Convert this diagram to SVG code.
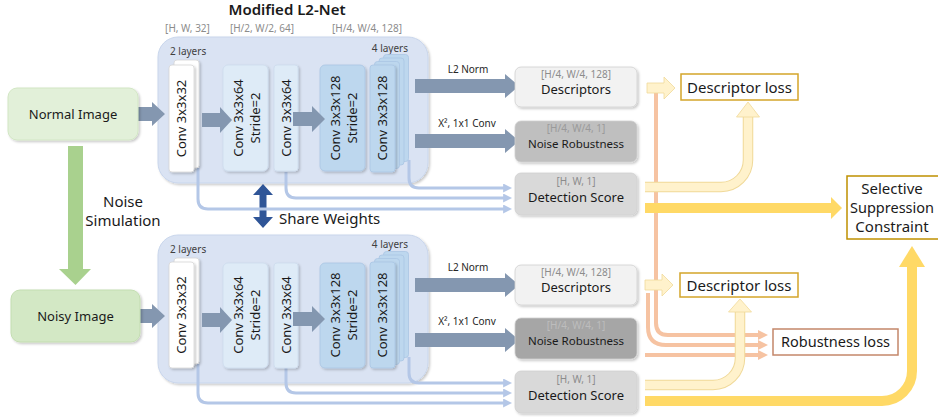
<svg xmlns="http://www.w3.org/2000/svg" width="938" height="417" viewBox="0 0 938 417">
<defs>
<style>
text{font-family:"Noto Sans","Open Sans","Liberation Sans",sans-serif;fill:#1a1a1a}
.dim{font-size:10px;fill:#8c8c8c;text-anchor:middle}
.lay{font-size:10px;fill:#404040}
.cv{font-size:13px;text-anchor:middle}
.lbl{font-size:10px;text-anchor:middle;fill:#262626}
.big{font-size:15px}
.mid{text-anchor:middle}
.cont{fill:#dae3f3;stroke:#c9d6ec;stroke-width:1}
.b1{fill:#ffffff;stroke:#d6d6d6;stroke-width:0.8}
.b2{fill:#deebf7;stroke:#cddcee;stroke-width:0.8}
.b4{fill:#bdd7ee;stroke:#a9c5e3;stroke-width:0.8}
.garr{fill:#8497b0}
.blue{fill:none;stroke:#b4c7e7;stroke-width:3}
.org{fill:none;stroke:#f6c3a2;stroke-width:4}
.ly-edge{fill:none;stroke:#f0d999;stroke-width:10.5}
.ly{fill:none;stroke:#fff2cc;stroke-width:8.5}
.gold{fill:none;stroke:#ffd966;stroke-width:10}
.out{stroke:#d0d0d0;stroke-width:0.8}
.loss{fill:#ffffff;stroke-width:1.5}
</style>
<filter id="sh" x="-20%" y="-20%" width="150%" height="150%">
<feDropShadow dx="1.5" dy="1.5" stdDeviation="1.2" flood-color="#000" flood-opacity="0.22"/>
</filter>
<marker id="ab" viewBox="0 0 10 10" refX="1" refY="5" markerWidth="9" markerHeight="9" markerUnits="userSpaceOnUse" orient="auto">
<path d="M0,0 L10,5 L0,10 z" fill="#b4c7e7"/>
</marker>
<marker id="ao" viewBox="0 0 10 10" refX="1" refY="5" markerWidth="10" markerHeight="11" markerUnits="userSpaceOnUse" orient="auto">
<path d="M0,0 L10,5 L0,10 z" fill="#f6c3a2"/>
</marker>
</defs>

<rect width="938" height="417" fill="#ffffff"/>

<text x="287" y="15" class="mid" style="font-size:15px;font-weight:600">Modified L2-Net</text>
<text x="187.5" y="32" class="dim">[H, W, 32]</text>
<text x="262" y="32" class="dim">[H/2, W/2, 64]</text>
<text x="367" y="32" class="dim">[H/4, W/4, 128]</text>

<!-- containers -->
<g id="net-top">
<rect x="158" y="37" width="270" height="146" rx="20" class="cont" filter="url(#sh)"/>
<text x="170" y="55" class="lay">2 layers</text>
<text x="408" y="52" class="lay" text-anchor="end">4 layers</text>
</g>
<g id="net-bottom">
<rect x="158" y="235" width="270" height="148" rx="20" class="cont" filter="url(#sh)"/>
<text x="170" y="253" class="lay">2 layers</text>
<text x="408" y="248" class="lay" text-anchor="end">4 layers</text>
</g>

<!-- connectors -->
<g id="connectors">
<polygon points="68,146 83,146 83,269 91,269 75.5,285 59,269 68,269" fill="#a9d18e"/>
<polygon points="263,184 273,195 266.5,195 266.5,217 273,217 263,228 253,217 259.5,217 259.5,195 253,195" fill="#2f5597"/>
<polygon points="135,107 152,107 152,102 165,114 152,126 152,121 135,121" class="garr"/>
<polygon points="135,309 152,309 152,304 165,316 152,328 152,323 135,323" class="garr"/>
<path d="M409 160 V178 Q409 188 419 188 H504" class="blue" marker-end="url(#ab)"/>
<path d="M286 172 V188 Q286 198 296 198 H504" class="blue" marker-end="url(#ab)"/>
<path d="M198 168 V199 Q198 209 208 209 H504" class="blue" marker-end="url(#ab)"/>
<path d="M409 357 V373 Q409 383 419 383 H504" class="blue" marker-end="url(#ab)"/>
<path d="M286 368 V383 Q286 393 296 393 H504" class="blue" marker-end="url(#ab)"/>
<path d="M198 364 V393 Q198 403 208 403 H504" class="blue" marker-end="url(#ab)"/>
<polygon points="415,79 505,79 505,74 519,86 505,98 505,93 415,93" class="garr"/>
<polygon points="415,134 505,134 505,129 519,141 505,153 505,148 415,148" class="garr"/>
<text x="468" y="73" class="lbl">L2 Norm</text>
<text x="467" y="127" class="lbl">X², 1x1 Conv</text>
<polygon points="415,278 505,278 505,273 519,285 505,297 505,292 415,292" class="garr"/>
<polygon points="415,333 505,333 505,328 519,340 505,352 505,347 415,347" class="garr"/>
<text x="468" y="271" class="lbl">L2 Norm</text>
<text x="467" y="325" class="lbl">X², 1x1 Conv</text>
<path d="M656 93 V323 Q656 335 668 335 H759" class="org" marker-end="url(#ao)"/>
<path d="M648 293 V327 Q648 345 666 345 H759" class="org" marker-end="url(#ao)"/>
<path d="M645 355 H759" class="org" marker-end="url(#ao)"/>
<polygon points="647,83 664,83 664,77 675,88 664,99 664,93 647,93" fill="#fff2cc" stroke="#f0d999" stroke-width="0.8"/>
<polygon points="645,280 662,280 662,274 673,285 662,296 662,290 645,290" fill="#fff2cc" stroke="#f0d999" stroke-width="0.8"/>
<path d="M645 187 H721 A27 27 0 0 0 748 160 V117" class="ly-edge"/>
<path d="M645 187 H721 A27 27 0 0 0 748 160 V116" class="ly"/>
<polygon points="736.5,117 748,102 759.5,117" fill="#fff2cc" stroke="#f0d999" stroke-width="0.8"/>
<path d="M645 385 H713 A27 27 0 0 0 740 358 V312" class="ly-edge"/>
<path d="M645 385 H713 A27 27 0 0 0 740 358 V311" class="ly"/>
<polygon points="728.5,312 740,299 751.5,312" fill="#fff2cc" stroke="#f0d999" stroke-width="0.8"/>
<path d="M645 208 H832" class="gold"/>
<polygon points="831,197 842,208 831,219" fill="#ffd966"/>
<path d="M645 401 H882 A30 30 0 0 0 912 371 V266" class="gold"/>
<polygon points="899,267 912,246 925,267" fill="#ffd966"/>
</g>

<!-- inputs -->
<g id="normal-image">
<rect x="8" y="88" width="130" height="52" rx="9" fill="#e2f0d9" stroke="#d2e6c4" filter="url(#sh)"/>
<text x="73" y="118.5" class="mid" style="font-size:13px">Normal Image</text>
</g>
<g id="noisy-image">
<rect x="11" y="290" width="129" height="52" rx="9" fill="#d3e8c5" stroke="#c3ddb1" filter="url(#sh)"/>
<text x="75.5" y="321" class="mid" style="font-size:13px">Noisy Image</text>
</g>
<text x="123" y="207" class="big mid">Noise</text>
<text x="123" y="226" class="big mid">Simulation</text>
<text x="279" y="224" class="big">Share Weights</text>

<!-- top blocks -->
<g id="top-conv1">
<rect x="174" y="60" width="25" height="108" rx="3" class="b1" filter="url(#sh)"/>
<rect x="169" y="65" width="25" height="107" rx="3" class="b1" filter="url(#sh)"/>
<text transform="translate(181.5,118.5) rotate(-90)" y="4.5" class="cv">Conv 3x3x32</text>
</g>
<g id="top-conv2">
<rect x="223" y="65" width="45" height="106" rx="5" class="b2" filter="url(#sh)"/>
<text transform="translate(245.5,118) rotate(-90)" class="cv"><tspan x="0" y="-3">Conv 3x3x64</tspan><tspan x="0" y="14.5">Stride=2</tspan></text>
</g>
<g id="top-conv3">
<rect x="274" y="65" width="24" height="106" rx="3" class="b2" filter="url(#sh)"/>
<text transform="translate(286,118) rotate(-90)" y="4.5" class="cv">Conv 3x3x64</text>
</g>
<g id="top-conv4">
<rect x="320" y="65" width="45" height="106" rx="5" class="b4" filter="url(#sh)"/>
<text transform="translate(342.5,118) rotate(-90)" class="cv"><tspan x="0" y="-3">Conv 3x3x128</tspan><tspan x="0" y="14.5">Stride=2</tspan></text>
</g>
<g id="top-conv5">
<rect x="383.5" y="54.5" width="25" height="107" rx="3" class="b4"/>
<rect x="379" y="58" width="25" height="107" rx="3" class="b4"/>
<rect x="374.5" y="61.5" width="25" height="107" rx="3" class="b4"/>
<rect x="370" y="65" width="25" height="107" rx="3" class="b4" filter="url(#sh)"/>
<text transform="translate(382.5,118) rotate(-90)" y="4.5" class="cv">Conv 3x3x128</text>
</g>
<polygon points="202,113 220,113 220,107 232,120 220,133 220,127 202,127" class="garr"/>
<polygon points="293,112 312,112 312,106 325,119 312,132 312,126 293,126" class="garr"/>

<!-- bottom blocks -->
<g id="bot-conv1">
<rect x="174" y="258" width="25" height="106" rx="3" class="b1" filter="url(#sh)"/>
<rect x="169" y="262" width="25" height="106" rx="3" class="b1" filter="url(#sh)"/>
<text transform="translate(181.5,315) rotate(-90)" y="4.5" class="cv">Conv 3x3x32</text>
</g>
<g id="bot-conv2">
<rect x="223" y="263" width="45" height="105" rx="5" class="b2" filter="url(#sh)"/>
<text transform="translate(245.5,315) rotate(-90)" class="cv"><tspan x="0" y="-3">Conv 3x3x64</tspan><tspan x="0" y="14.5">Stride=2</tspan></text>
</g>
<g id="bot-conv3">
<rect x="274" y="263" width="24" height="105" rx="3" class="b2" filter="url(#sh)"/>
<text transform="translate(286,315) rotate(-90)" y="4.5" class="cv">Conv 3x3x64</text>
</g>
<g id="bot-conv4">
<rect x="320" y="263" width="45" height="105" rx="5" class="b4" filter="url(#sh)"/>
<text transform="translate(342.5,315) rotate(-90)" class="cv"><tspan x="0" y="-3">Conv 3x3x128</tspan><tspan x="0" y="14.5">Stride=2</tspan></text>
</g>
<g id="bot-conv5">
<rect x="383.5" y="251.5" width="25" height="106" rx="3" class="b4"/>
<rect x="379" y="255" width="25" height="106" rx="3" class="b4"/>
<rect x="374.5" y="258.5" width="25" height="106" rx="3" class="b4"/>
<rect x="370" y="262" width="25" height="106" rx="3" class="b4" filter="url(#sh)"/>
<text transform="translate(382.5,315) rotate(-90)" y="4.5" class="cv">Conv 3x3x128</text>
</g>
<polygon points="202,313 220,313 220,307 232,320 220,333 220,327 202,327" class="garr"/>
<polygon points="293,312 312,312 312,306 325,319 312,332 312,326 293,326" class="garr"/>

<!-- outputs top -->
<g id="top-descriptors">
<rect x="515" y="67" width="122" height="40" rx="6" fill="#f2f2f2" class="out" filter="url(#sh)"/>
<text x="576" y="78" class="dim">[H/4, W/4, 128]</text>
<text x="576" y="94" class="mid" style="font-size:13px">Descriptors</text>
</g>
<g id="top-noise">
<rect x="515" y="121" width="122" height="41" rx="6" fill="#bfbfbf" class="out" filter="url(#sh)"/>
<text x="576" y="132" class="dim" style="fill:#9a9a9a">[H/4, W/4, 1]</text>
<text x="576" y="147.5" class="mid" style="font-size:11.5px">Noise Robustness</text>
</g>
<g id="top-detection">
<rect x="515" y="173" width="122" height="42" rx="6" fill="#d9d9d9" class="out" filter="url(#sh)"/>
<text x="576" y="184.5" class="dim">[H, W, 1]</text>
<text x="576" y="201.5" class="mid" style="font-size:13px">Detection Score</text>
</g>

<!-- outputs bottom -->
<g id="bot-descriptors">
<rect x="515" y="265" width="122" height="40" rx="6" fill="#f2f2f2" class="out" filter="url(#sh)"/>
<text x="576" y="276" class="dim">[H/4, W/4, 128]</text>
<text x="576" y="292" class="mid" style="font-size:13px">Descriptors</text>
</g>
<g id="bot-noise">
<rect x="515" y="318" width="122" height="41" rx="6" fill="#a6a6a6" class="out" filter="url(#sh)"/>
<text x="576" y="329" class="dim" style="fill:#bdbdbd">[H/4, W/4, 1]</text>
<text x="576" y="344.5" class="mid" style="font-size:11.5px">Noise Robustness</text>
</g>
<g id="bot-detection">
<rect x="515" y="371" width="122" height="42" rx="6" fill="#d9d9d9" class="out" filter="url(#sh)"/>
<text x="576" y="382.5" class="dim">[H, W, 1]</text>
<text x="576" y="399.5" class="mid" style="font-size:13px">Detection Score</text>
</g>

<!-- losses -->
<g id="descriptor-loss-top">
<rect x="681" y="74" width="117" height="26" class="loss" stroke="#d4a52a"/>
<text x="739.5" y="92.5" class="big mid">Descriptor loss</text>
</g>
<g id="descriptor-loss-bottom">
<rect x="680" y="273" width="118" height="24" class="loss" stroke="#d4a52a"/>
<text x="739" y="290.5" class="big mid">Descriptor loss</text>
</g>
<g id="robustness-loss">
<rect x="773" y="329" width="125" height="26" class="loss" stroke="#c4876a"/>
<text x="835.5" y="347" class="mid" style="font-size:14.5px">Robustness loss</text>
</g>
<g id="selective-suppression">
<rect x="847" y="176" width="100" height="63" class="loss" stroke="#bf9000"/>
<text x="892" y="194" class="big mid">Selective</text>
<text x="892" y="213" class="mid" style="font-size:14.5px">Suppression</text>
<text x="892" y="232" class="big mid">Constraint</text>
</g>
</svg>
